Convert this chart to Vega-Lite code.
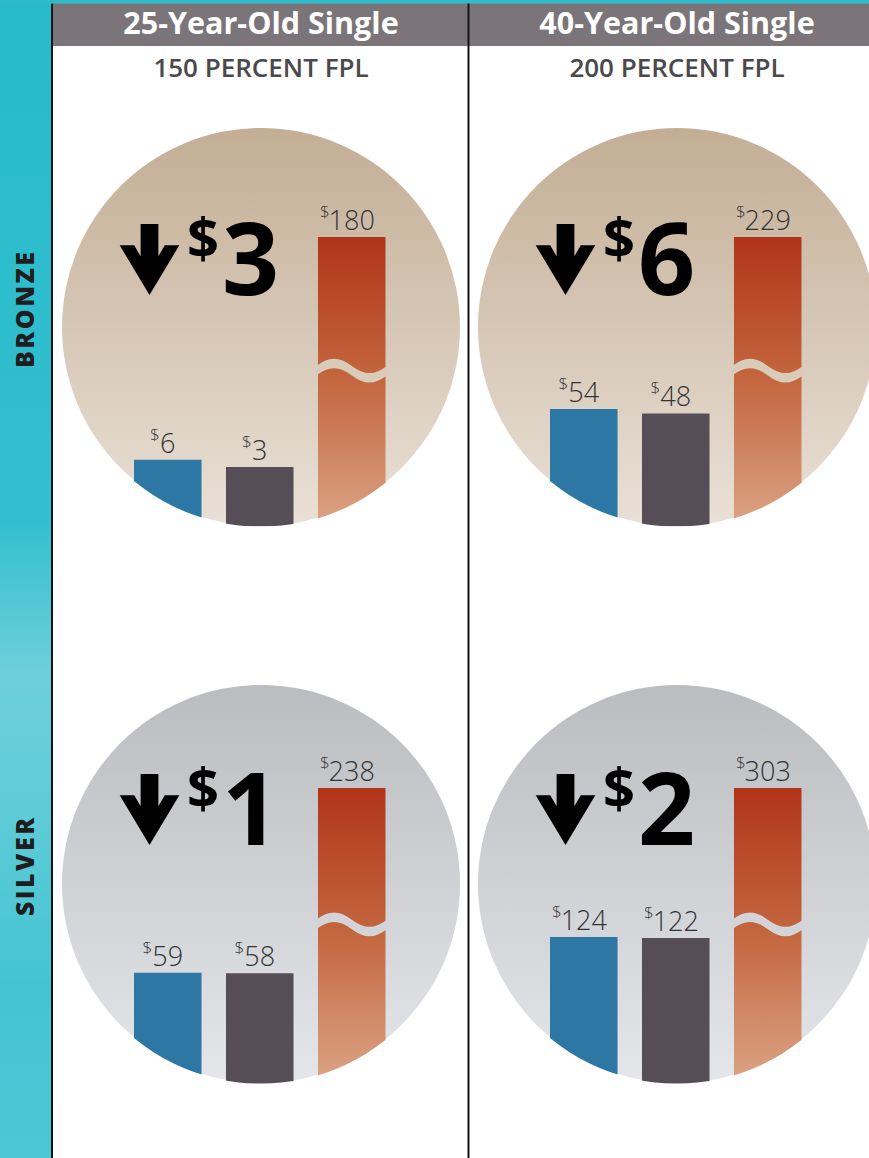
{
  "$schema": "https://vega.github.io/schema/vega-lite/v6.json",
  "width": 869,
  "height": 1158,
  "autosize": {"type": "none"},
  "padding": 0,
  "background": "#ffffff",
  "config": {
    "view": {"stroke": null},
    "axis": {"disable": true},
    "legend": {"disable": true},
    "font": "Open Sans"
  },
  "datasets": {
    "premiums": [
      {"tier": "Bronze", "age": "25-Year-Old Single", "plan": "Prior net premium", "value": 6},
      {"tier": "Bronze", "age": "25-Year-Old Single", "plan": "New net premium", "value": 3},
      {"tier": "Bronze", "age": "25-Year-Old Single", "plan": "Full premium", "value": 180},
      {"tier": "Bronze", "age": "40-Year-Old Single", "plan": "Prior net premium", "value": 54},
      {"tier": "Bronze", "age": "40-Year-Old Single", "plan": "New net premium", "value": 48},
      {"tier": "Bronze", "age": "40-Year-Old Single", "plan": "Full premium", "value": 229},
      {"tier": "Silver", "age": "25-Year-Old Single", "plan": "Prior net premium", "value": 59},
      {"tier": "Silver", "age": "25-Year-Old Single", "plan": "New net premium", "value": 58},
      {"tier": "Silver", "age": "25-Year-Old Single", "plan": "Full premium", "value": 238},
      {"tier": "Silver", "age": "40-Year-Old Single", "plan": "Prior net premium", "value": 124},
      {"tier": "Silver", "age": "40-Year-Old Single", "plan": "New net premium", "value": 122},
      {"tier": "Silver", "age": "40-Year-Old Single", "plan": "Full premium", "value": 303}
    ],
    "panels": [
      {"tier": "Bronze", "age": "25-Year-Old Single", "drop": 3},
      {"tier": "Bronze", "age": "40-Year-Old Single", "drop": 6},
      {"tier": "Silver", "age": "25-Year-Old Single", "drop": 1},
      {"tier": "Silver", "age": "40-Year-Old Single", "drop": 2}
    ],
    "columns": [
      {"age": "25-Year-Old Single", "fpl": "150 PERCENT FPL"},
      {"age": "40-Year-Old Single", "fpl": "200 PERCENT FPL"}
    ],
    "tiers": [{"tier": "Bronze"}, {"tier": "Silver"}]
  },
  "resolve": {"scale": {"y": "independent"}},
  "layer": [
    {
      "data": {"values": [{}]},
      "mark": {"type": "rect", "x": 52, "x2": 869, "y": 3, "y2": 46, "fill": "#7b7479"},
      "encoding": {}
    },
    {
      "data": {"name": "panels"},
      "layer": [
        {
          "transform": [{"filter": "datum.tier === 'Bronze'"}],
          "mark": {
            "type": "point", "shape": "circle", "size": 158404, "filled": true, "opacity": 1, "strokeWidth": 0,
            "fill": {"gradient": "linear", "x1": 0, "y1": 0, "x2": 0, "y2": 1,
              "stops": [{"offset": 0, "color": "#c3ae95"}, {"offset": 1, "color": "#e9e0d6"}]}
          },
          "encoding": {
            "x": {"field": "age", "type": "nominal", "scale": {"domain": ["25-Year-Old Single", "40-Year-Old Single"], "range": [53, 885], "paddingInner": 0, "paddingOuter": 0}},
            "y": {"field": "tier", "type": "nominal", "scale": {"domain": ["Bronze", "Silver"], "range": [48.5, 1162.5], "paddingInner": 0, "paddingOuter": 0}}
          }
        },
        {
          "transform": [{"filter": "datum.tier === 'Silver'"}],
          "mark": {
            "type": "point", "shape": "circle", "size": 158404, "filled": true, "opacity": 1, "strokeWidth": 0,
            "fill": {"gradient": "linear", "x1": 0, "y1": 0, "x2": 0, "y2": 1,
              "stops": [{"offset": 0, "color": "#bbbcbf"}, {"offset": 1, "color": "#e5e6e9"}]}
          },
          "encoding": {
            "x": {"field": "age", "type": "nominal", "scale": {"domain": ["25-Year-Old Single", "40-Year-Old Single"], "range": [53, 885], "paddingInner": 0, "paddingOuter": 0}},
            "y": {"field": "tier", "type": "nominal", "scale": {"domain": ["Bronze", "Silver"], "range": [48.5, 1162.5], "paddingInner": 0, "paddingOuter": 0}}
          }
        }
      ]
    },
    {
      "data": {"name": "premiums"},
      "transform": [
        {"filter": "datum.tier === 'Bronze' && datum.plan !== 'Full premium'"},
        {"calculate": "length(toString(datum.value))", "as": "digits"}
      ],
      "encoding": {
        "x": {"field": "age", "type": "nominal", "scale": {"domain": ["25-Year-Old Single", "40-Year-Old Single"], "range": [53, 885], "paddingInner": 0, "paddingOuter": 0}},
        "xOffset": {"field": "plan", "type": "nominal", "scale": {"domain": ["Prior net premium", "New net premium", "Full premium"], "range": [81, 332.5], "paddingInner": 0.266, "paddingOuter": 0}},
        "y": {"field": "value", "type": "quantitative", "scale": {"type": "sqrt", "domain": [-16, 400], "range": [526.3, 278.4], "nice": false, "zero": false}}
      },
      "layer": [
        {
          "mark": {"type": "bar", "strokeWidth": 0},
          "encoding": {
            "y2": {"datum": -16},
            "color": {"field": "plan", "type": "nominal", "scale": {"domain": ["Prior net premium", "New net premium"], "range": ["#2d77a5", "#554e56"]}}
          }
        },
        {
          "mark": {"type": "text", "align": "center", "baseline": "alphabetic", "dy": -7, "fontSize": 27, "fontWeight": 300, "fill": "#333335"},
          "encoding": {"text": {"field": "value", "type": "quantitative"}}
        },
        {
          "transform": [{"filter": "datum.digits === 1"}],
          "mark": {"type": "text", "text": "$", "align": "right", "baseline": "alphabetic", "dx": -8, "dy": -19, "fontSize": 17, "fontWeight": 300, "fill": "#333335"}
        },
        {
          "transform": [{"filter": "datum.digits === 2"}],
          "mark": {"type": "text", "text": "$", "align": "right", "baseline": "alphabetic", "dx": -15.5, "dy": -19, "fontSize": 17, "fontWeight": 300, "fill": "#333335"}
        },
        {
          "transform": [{"filter": "datum.digits === 3"}],
          "mark": {"type": "text", "text": "$", "align": "right", "baseline": "alphabetic", "dx": -22, "dy": -19, "fontSize": 17, "fontWeight": 300, "fill": "#333335"}
        }
      ]
    },
    {
      "data": {"name": "premiums"},
      "transform": [
        {"filter": "datum.tier === 'Bronze' && datum.plan === 'Full premium'"}
      ],
      "encoding": {
        "x": {"field": "age", "type": "nominal", "scale": {"domain": ["25-Year-Old Single", "40-Year-Old Single"], "range": [53, 885], "paddingInner": 0, "paddingOuter": 0}},
        "xOffset": {"field": "plan", "type": "nominal", "scale": {"domain": ["Prior net premium", "New net premium", "Full premium"], "range": [81, 332.5], "paddingInner": 0.266, "paddingOuter": 0}},
        "y": {"field": "value", "type": "quantitative", "scale": {"type": "linear", "domain": [0, 160], "range": [526, 237], "clamp": true, "nice": false, "zero": false}}
      },
      "layer": [
        {
          "mark": {
            "type": "bar", "strokeWidth": 0,
            "fill": {"gradient": "linear", "x1": 0, "y1": 0, "x2": 0, "y2": 1,
              "stops": [{"offset": 0, "color": "#b1341a"}, {"offset": 0.5, "color": "#c4673f"}, {"offset": 1, "color": "#dba486"}]}
          },
          "encoding": {"y2": {"datum": 0}}
        },
        {
          "mark": {
            "type": "point", "filled": true, "opacity": 1, "strokeWidth": 0, "size": 4624, "fill": "#d9cbba",
            "shape": "M -1.04 -0.14 C -0.666 -0.42 -0.374 -0.42 0 -0.14 C 0.374 0.14 0.666 0.14 1.04 -0.14 L 1.04 0.14 C 0.666 0.42 0.374 0.42 0 0.14 C -0.374 -0.14 -0.666 -0.14 -1.04 0.14 Z"
          },
          "encoding": {"y": {"datum": 86, "type": "quantitative"}}
        },
        {
          "mark": {"type": "text", "align": "center", "baseline": "alphabetic", "dy": -7, "fontSize": 27, "fontWeight": 300, "fill": "#333335"},
          "encoding": {"text": {"field": "value", "type": "quantitative"}}
        },
        {
          "mark": {"type": "text", "text": "$", "align": "right", "baseline": "alphabetic", "dx": -22, "dy": -19, "fontSize": 17, "fontWeight": 300, "fill": "#333335"}
        }
      ]
    },
    {
      "data": {"name": "premiums"},
      "transform": [
        {"filter": "datum.tier === 'Silver' && datum.plan !== 'Full premium'"},
        {"calculate": "length(toString(datum.value))", "as": "digits"}
      ],
      "encoding": {
        "x": {"field": "age", "type": "nominal", "scale": {"domain": ["25-Year-Old Single", "40-Year-Old Single"], "range": [53, 885], "paddingInner": 0, "paddingOuter": 0}},
        "xOffset": {"field": "plan", "type": "nominal", "scale": {"domain": ["Prior net premium", "New net premium", "Full premium"], "range": [81, 332.5], "paddingInner": 0.266, "paddingOuter": 0}},
        "y": {"field": "value", "type": "quantitative", "scale": {"type": "sqrt", "domain": [-16, 400], "range": [1093.3, 845.4], "nice": false, "zero": false}}
      },
      "layer": [
        {
          "mark": {"type": "bar", "strokeWidth": 0},
          "encoding": {
            "y2": {"datum": -16},
            "color": {"field": "plan", "type": "nominal", "scale": {"domain": ["Prior net premium", "New net premium"], "range": ["#2d77a5", "#554e56"]}}
          }
        },
        {
          "mark": {"type": "text", "align": "center", "baseline": "alphabetic", "dy": -7, "fontSize": 27, "fontWeight": 300, "fill": "#333335"},
          "encoding": {"text": {"field": "value", "type": "quantitative"}}
        },
        {
          "transform": [{"filter": "datum.digits === 1"}],
          "mark": {"type": "text", "text": "$", "align": "right", "baseline": "alphabetic", "dx": -8, "dy": -19, "fontSize": 17, "fontWeight": 300, "fill": "#333335"}
        },
        {
          "transform": [{"filter": "datum.digits === 2"}],
          "mark": {"type": "text", "text": "$", "align": "right", "baseline": "alphabetic", "dx": -15.5, "dy": -19, "fontSize": 17, "fontWeight": 300, "fill": "#333335"}
        },
        {
          "transform": [{"filter": "datum.digits === 3"}],
          "mark": {"type": "text", "text": "$", "align": "right", "baseline": "alphabetic", "dx": -22, "dy": -19, "fontSize": 17, "fontWeight": 300, "fill": "#333335"}
        }
      ]
    },
    {
      "data": {"name": "premiums"},
      "transform": [
        {"filter": "datum.tier === 'Silver' && datum.plan === 'Full premium'"}
      ],
      "encoding": {
        "x": {"field": "age", "type": "nominal", "scale": {"domain": ["25-Year-Old Single", "40-Year-Old Single"], "range": [53, 885], "paddingInner": 0, "paddingOuter": 0}},
        "xOffset": {"field": "plan", "type": "nominal", "scale": {"domain": ["Prior net premium", "New net premium", "Full premium"], "range": [81, 332.5], "paddingInner": 0.266, "paddingOuter": 0}},
        "y": {"field": "value", "type": "quantitative", "scale": {"type": "linear", "domain": [0, 160], "range": [1083, 788], "clamp": true, "nice": false, "zero": false}}
      },
      "layer": [
        {
          "mark": {
            "type": "bar", "strokeWidth": 0,
            "fill": {"gradient": "linear", "x1": 0, "y1": 0, "x2": 0, "y2": 1,
              "stops": [{"offset": 0, "color": "#b1341a"}, {"offset": 0.5, "color": "#c4673f"}, {"offset": 1, "color": "#dba486"}]}
          },
          "encoding": {"y2": {"datum": 0}}
        },
        {
          "mark": {
            "type": "point", "filled": true, "opacity": 1, "strokeWidth": 0, "size": 4624, "fill": "#d3d4d7",
            "shape": "M -1.04 -0.14 C -0.666 -0.42 -0.374 -0.42 0 -0.14 C 0.374 0.14 0.666 0.14 1.04 -0.14 L 1.04 0.14 C 0.666 0.42 0.374 0.42 0 0.14 C -0.374 -0.14 -0.666 -0.14 -1.04 0.14 Z"
          },
          "encoding": {"y": {"datum": 86, "type": "quantitative"}}
        },
        {
          "mark": {"type": "text", "align": "center", "baseline": "alphabetic", "dy": -7, "fontSize": 27, "fontWeight": 300, "fill": "#333335"},
          "encoding": {"text": {"field": "value", "type": "quantitative"}}
        },
        {
          "mark": {"type": "text", "text": "$", "align": "right", "baseline": "alphabetic", "dx": -22, "dy": -19, "fontSize": 17, "fontWeight": 300, "fill": "#333335"}
        }
      ]
    },
    {
      "data": {"name": "panels"},
      "mark": {"type": "arc", "theta": 2.25, "theta2": 4.05, "radius": 252, "radius2": 199.6, "fill": "#ffffff", "strokeWidth": 0},
      "encoding": {
        "x": {"field": "age", "type": "nominal", "scale": {"domain": ["25-Year-Old Single", "40-Year-Old Single"], "range": [53, 885], "paddingInner": 0, "paddingOuter": 0}},
        "y": {"field": "tier", "type": "nominal", "scale": {"domain": ["Bronze", "Silver"], "range": [48.5, 1162.5], "paddingInner": 0, "paddingOuter": 0}}
      }
    },
    {
      "data": {"name": "panels"},
      "encoding": {
        "x": {"field": "age", "type": "nominal", "scale": {"domain": ["25-Year-Old Single", "40-Year-Old Single"], "range": [53, 885], "paddingInner": 0, "paddingOuter": 0}},
        "y": {"field": "tier", "type": "nominal", "scale": {"domain": ["Bronze", "Silver"], "range": [20, 1120], "paddingInner": 0, "paddingOuter": 0}}
      },
      "layer": [
        {
          "mark": {
            "type": "point", "filled": true, "opacity": 1, "strokeWidth": 0, "size": 5041, "fill": "#000000",
            "xOffset": -111.5, "yOffset": -35.5,
            "shape": "M -0.25 -1 L 0.25 -1 L 0.25 -0.09 L 0.43 -0.4 L 0.84 -0.4 L 0 1 L -0.84 -0.4 L -0.43 -0.4 L -0.25 -0.09 Z"
          }
        },
        {
          "mark": {"type": "text", "text": "$", "align": "right", "baseline": "alphabetic", "dx": -42, "dy": -37, "fontSize": 56, "fontWeight": "bold", "fill": "#000000"}
        },
        {
          "mark": {"type": "text", "align": "left", "baseline": "alphabetic", "dx": -39, "fontSize": 100, "fontWeight": "bold", "fill": "#000000"},
          "encoding": {"text": {"field": "drop", "type": "quantitative"}}
        }
      ]
    },
    {
      "data": {"values": [{}]},
      "mark": {
        "type": "rect", "x": 0, "x2": 51, "y": 0, "y2": 1158,
        "fill": {"gradient": "linear", "x1": 0, "y1": 0, "x2": 0, "y2": 1,
          "stops": [
            {"offset": 0, "color": "#27bacb"},
            {"offset": 0.45, "color": "#33bfcf"},
            {"offset": 0.58, "color": "#6dcfdb"},
            {"offset": 0.68, "color": "#62ccd8"},
            {"offset": 0.85, "color": "#44c4d3"},
            {"offset": 1, "color": "#4cc7d5"}
          ]}
      },
      "encoding": {}
    },
    {
      "data": {"values": [{}]},
      "mark": {"type": "rect", "x": 0, "x2": 869, "y": 0, "y2": 3.5, "fill": "#2dbccc"},
      "encoding": {}
    },
    {
      "data": {"name": "tiers"},
      "transform": [{"calculate": "join(split(upper(datum.tier), ''), '\u200a')", "as": "label"}],
      "mark": {"type": "text", "x": 26, "yOffset": -17, "angle": 270, "align": "center", "baseline": "middle", "fontSize": 25, "fontWeight": 800, "fill": "#1f1d1e"},
      "encoding": {
        "y": {"field": "tier", "type": "nominal", "scale": {"domain": ["Bronze", "Silver"], "range": [48.5, 1162.5], "paddingInner": 0, "paddingOuter": 0}},
        "text": {"field": "label"}
      }
    },
    {
      "data": {"values": [{}]},
      "mark": {"type": "rect", "x": 51, "x2": 53, "y": 3.5, "y2": 1158, "fill": "#141414"},
      "encoding": {}
    },
    {
      "data": {"values": [{}]},
      "mark": {"type": "rect", "x": 467.5, "x2": 469.5, "y": 3.5, "y2": 1158, "fill": "#141414"},
      "encoding": {}
    },
    {
      "data": {"name": "columns"},
      "encoding": {
        "x": {"field": "age", "type": "nominal", "scale": {"domain": ["25-Year-Old Single", "40-Year-Old Single"], "range": [53, 885], "paddingInner": 0, "paddingOuter": 0}}
      },
      "layer": [
        {
          "mark": {"type": "text", "y": 34, "align": "center", "baseline": "alphabetic", "fontSize": 30.5, "fontWeight": "bold", "fill": "#ffffff"},
          "encoding": {"text": {"field": "age"}}
        },
        {
          "mark": {"type": "text", "y": 77, "align": "center", "baseline": "alphabetic", "fontSize": 26, "fontWeight": 600, "fill": "#4a494b"},
          "encoding": {"text": {"field": "fpl"}}
        }
      ]
    }
  ]
}
